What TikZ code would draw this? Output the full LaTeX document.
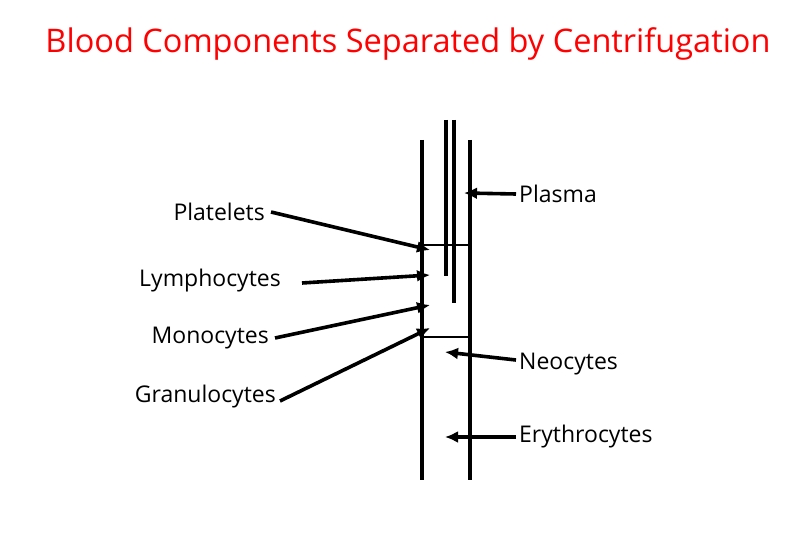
\documentclass[tikz,border=0pt]{standalone}
\usepackage{fontspec}
\setmainfont{Open Sans}
\usetikzlibrary{positioning}
\usetikzlibrary{arrows.meta}

\begin{document}
\begin{tikzpicture}[x=1pt,y=-1pt,
    tube/.style={line width=3.2pt},
    band/.style={line width=2.6pt},
    pointer/.style={line width=3.6pt,-{Latex[length=13pt,width=12pt]}},
    lbl/.style={font=\fontsize{23}{28}\selectfont,inner sep=3pt}]
		\useasboundingbox (0,0) rectangle (810,540);
		% Title
		\node[text=red,font=\fontsize{32.5}{36}\selectfont] (title) at (408,44) {Blood Components Separated by Centrifugation};

		% Tube
		\draw[tube] (422,140) -- (422,480);
		\draw[tube] (470,140) -- (470,480);
		\draw[tube] (446,120) -- (446,276);
		\draw[tube] (454,120) -- (454,303);
		\draw[band] (422,245) -- (470,245);
		\draw[band] (422,337) -- (470,337);

		% Arrow tips
		\coordinate (plat) at (430,250);
		\coordinate (lymph) at (430,275);
		\coordinate (mono) at (430,305);
		\coordinate (gran) at (430,328);
		\coordinate (plas) at (464,193);
		\coordinate (neo) at (445,352);
		\coordinate (ery) at (445,437);

		% Labels
		\node[lbl,anchor=east] (platelets) at (268,212) {Platelets};
		\node[lbl,anchor=east] (lymphocytes) at (284,281) {Lymphocytes};
		\node[lbl,anchor=east] (monocytes) at (272,338) {Monocytes};
		\node[lbl,anchor=east] (granulocytes) at (279,397) {Granulocytes};
		\node[lbl,anchor=west] (plasma) at (516,194) {Plasma};
		\node[lbl,anchor=west] (neocytes) at (516,364) {Neocytes};
		\node[lbl,anchor=west] (erythrocytes) at (516,437) {Erythrocytes};

		% Pointers
		\draw[pointer] ([xshift=3pt]platelets.east) -- (plat);
		\draw[pointer] (302,283) -- (lymph);
		\draw[pointer] ([xshift=3pt]monocytes.east) -- (mono);
		\draw[pointer] ([xshift=1pt,yshift=-4pt]granulocytes.east) -- (gran);
		\draw[pointer] (plasma.west) -- (plas);
		\draw[pointer] ([yshift=4pt]neocytes.west) -- (neo);
		\draw[pointer] (erythrocytes.west) -- (ery);
\end{tikzpicture}
\end{document}
